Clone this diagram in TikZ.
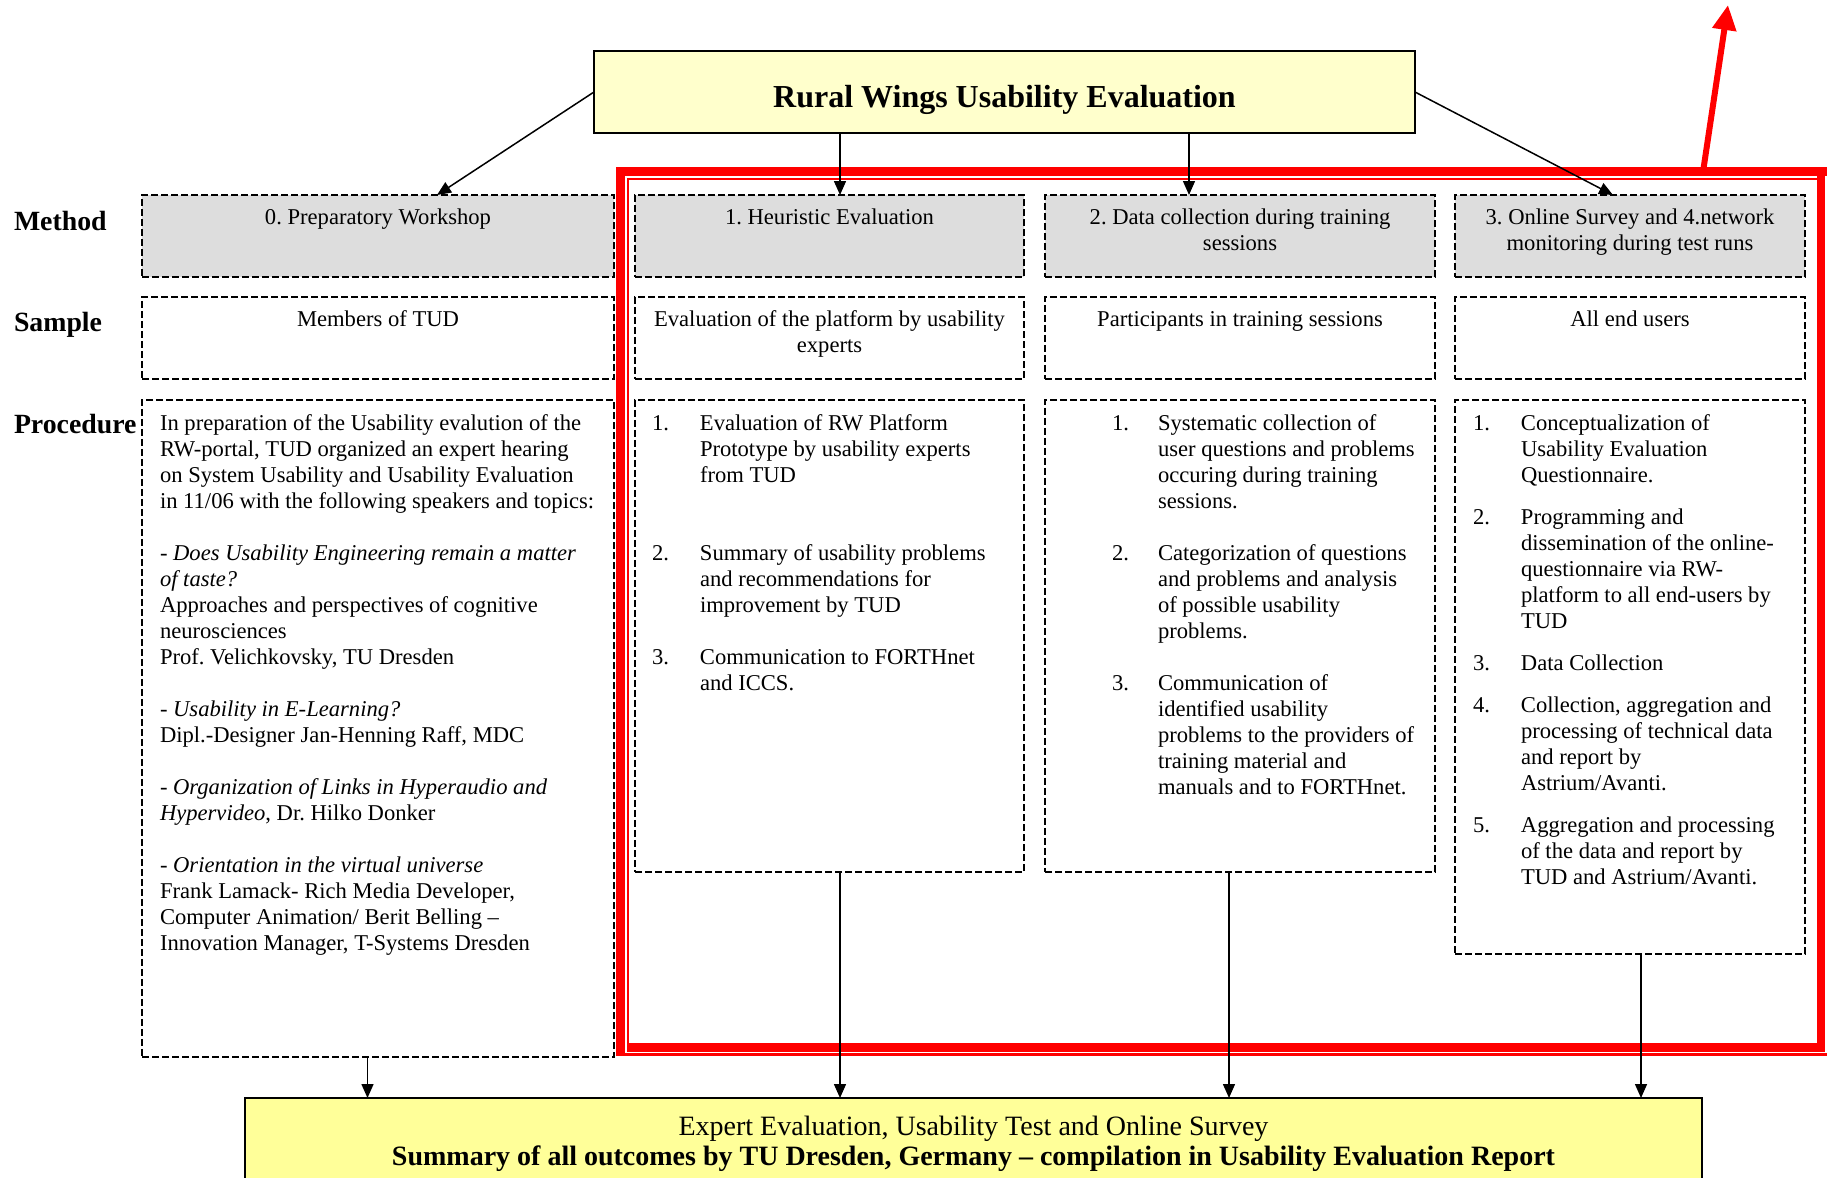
\documentclass[tikz,border=0pt]{standalone}
\usepackage{fontspec}
\setmainfont{Liberation Serif}
\usetikzlibrary{arrows.meta,calc}
\definecolor{boxgray}{HTML}{DDDDDD}
\definecolor{titley}{HTML}{FFFFCC}
\definecolor{boty}{HTML}{FFFF99}
\newcommand{\bodyf}{\fontsize{11.3}{13}\selectfont}
\newcommand{\nb}[1]{\makebox[24pt][l]{#1}}
\newcommand{\nbb}[1]{\makebox[23pt][l]{#1}}
\frenchspacing
\begin{document}
\begin{tikzpicture}[x=0.5pt,y=-0.5pt,
  place/.style n args={4}{anchor=north west, at={(#1,#2)},
     minimum width={(#3-#1)*0.5pt}, minimum height={(#4-#2)*0.5pt}},
  dbox/.style={draw=black, line width=0.85pt, dash pattern=on 3.3pt off 1.7pt, inner sep=0pt, outer sep=0pt},
  gbox/.style={dbox, fill=boxgray},
  txt/.style={inner sep=0pt, outer sep=0pt, font=\bodyf},
  lab/.style={inner sep=0pt, outer sep=0pt, anchor=base west, font=\fontsize{13.9}{16}\selectfont\bfseries},
  arr/.style={line width=0.75pt, -{Triangle[length=7pt,width=6pt]}},
  redarr/.style={draw=red, line width=3pt, -{Triangle[length=12.5pt,width=11.5pt]}}
]
\useasboundingbox (0,0) rectangle (1827,1178);
\clip (0,0) rectangle (1827,1178);

% title
\node[draw=black, line width=0.9pt, fill=titley, inner sep=0pt, outer sep=0pt, place={594}{51}{1415}{133}] (title) {};
\node[inner sep=0pt, anchor=base, font=\fontsize{16}{19}\selectfont\bfseries] (tt) at (1004.5,107) {Rural Wings Usability Evaluation};

% row labels
\node[lab] (lm) at (14,230) {Method};
\node[lab] (ls) at (14,331) {Sample};
\node[lab] (lp) at (14,433) {Procedure};

% method row
\node[gbox, place={142}{195}{614}{277}] (m0) {};
\node[gbox, place={635}{195}{1024}{277}] (m1) {};
\node[gbox, place={1045}{195}{1435}{277}] (m2) {};
\node[gbox, place={1455}{195}{1805}{277}] (m3) {};
\node[txt, anchor=base] (m0t) at (378,224) {0. Preparatory Workshop};
\node[txt, anchor=base] (m1t) at (829.5,224) {1. Heuristic Evaluation};
\node[txt, anchor=base] (m2t) at (1240,224) {\begin{tabular}[t]{@{}c@{}}2. Data collection during training\\sessions\end{tabular}};
\node[txt, anchor=base] (m3t) at (1630,224) {\begin{tabular}[t]{@{}c@{}}3. Online Survey and 4.network\\monitoring during test runs\end{tabular}};

% sample row
\node[dbox, place={142}{297}{614}{379}] (s0) {};
\node[dbox, place={635}{297}{1024}{379}] (s1) {};
\node[dbox, place={1045}{297}{1435}{379}] (s2) {};
\node[dbox, place={1455}{297}{1805}{379}] (s3) {};
\node[txt, anchor=base] (s0t) at (378,326) {Members of TUD};
\node[txt, anchor=base] (s1t) at (829.5,326) {\begin{tabular}[t]{@{}c@{}}Evaluation of the platform by usability\\experts\end{tabular}};
\node[txt, anchor=base] (s2t) at (1240,326) {Participants in training sessions};
\node[txt, anchor=base] (s3t) at (1630,326) {All end users};

% procedure row
\node[dbox, place={142}{400}{614}{1057}] (p0) {};
\node[dbox, place={635}{400}{1024}{872}] (p1) {};
\node[dbox, place={1045}{400}{1435}{872}] (p2) {};
\node[dbox, place={1455}{400}{1805}{954}] (p3) {};

\node[txt, anchor=base west] (p0t) at (160,430) {\begin{tabular}[t]{@{}l@{}}
In preparation of the Usability evalution of the\\
RW-portal, TUD organized an expert hearing\\
on System Usability and Usability Evaluation\\
in 11/06 with the following speakers and topics:\\
\\
\textit{- Does Usability Engineering remain a matter}\\
\textit{of taste?}\\
Approaches and perspectives of cognitive\\
neurosciences\\
Prof. Velichkovsky, TU Dresden\\
\\
\textit{- Usability in E-Learning?}\\
Dipl.-Designer Jan-Henning Raff, MDC\\
\\
\textit{- Organization of Links in Hyperaudio and}\\
\textit{Hypervideo}, Dr. Hilko Donker\\
\\
\textit{- Orientation in the virtual universe}\\
Frank Lamack- Rich Media Developer,\\
Computer Animation/ Berit Belling –\\
Innovation Manager, T-Systems Dresden
\end{tabular}};

\node[txt, anchor=base west] (p1t) at (652,430) {\begin{tabular}[t]{@{}l@{}}
\nb{1.}Evaluation of RW Platform\\
\nb{}Prototype by usability experts\\
\nb{}from TUD\\
\\
\\
\nb{2.}Summary of usability problems\\
\nb{}and recommendations for\\
\nb{}improvement by TUD\\
\\
\nb{3.}Communication to FORTHnet\\
\nb{}and ICCS.
\end{tabular}};

\node[txt, anchor=base west] (p2t) at (1112,430) {\begin{tabular}[t]{@{}l@{}}
\nbb{1.}Systematic collection of\\
\nbb{}user questions and problems\\
\nbb{}occuring during training\\
\nbb{}sessions.\\
\\
\nbb{2.}Categorization of questions\\
\nbb{}and problems and analysis\\
\nbb{}of possible usability\\
\nbb{}problems.\\
\\
\nbb{3.}Communication of\\
\nbb{}identified usability\\
\nbb{}problems to the providers of\\
\nbb{}training material and\\
\nbb{}manuals and to FORTHnet.
\end{tabular}};

\node[txt, anchor=base west] (p3t) at (1473,430) {\begin{tabular}[t]{@{}l@{}}
\nb{1.}Conceptualization of\\
\nb{}Usability Evaluation\\
\nb{}Questionnaire.\\[8pt]
\nb{2.}Programming and\\
\nb{}dissemination of the online-\\
\nb{}questionnaire via RW-\\
\nb{}platform to all end-users by\\
\nb{}TUD\\[8pt]
\nb{3.}Data Collection\\[8pt]
\nb{4.}Collection, aggregation and\\
\nb{}processing of technical data\\
\nb{}and report by\\
\nb{}Astrium/Avanti.\\[8pt]
\nb{5.}Aggregation and processing\\
\nb{}of the data and report by\\
\nb{}TUD and Astrium/Avanti.
\end{tabular}};

% bottom box
\node[draw=black, line width=1pt, fill=boty, inner sep=0pt, outer sep=0pt, place={245}{1098}{1702}{1210}] (bot) {};
\node[inner sep=0pt, anchor=base, font=\fontsize{14}{15}\selectfont] (bt) at (973.5,1135) {\begin{tabular}[t]{@{}c@{}}Expert Evaluation, Usability Test and Online Survey\\
\textbf{Summary of all outcomes by TU Dresden, Germany – compilation in Usability Evaluation Report}\end{tabular}};

% red frame
\fill[red] (616,167) rectangle (625,1056);
\fill[red] (616,167) rectangle (1830,176);
\fill[red] (627,178) rectangle (629,1043);
\fill[red] (627,178) rectangle (1817,180);
\fill[red] (1817,176) rectangle (1825,1052);
\fill[red] (627,1043) rectangle (1825,1052);
\fill[red] (616,1053) rectangle (1830,1056);

% red arrow
\coordinate (rs) at (1703,172);
\coordinate (rt) at (1728,5);
\draw[redarr] (rs) -- (rt);

% arrows from title
\draw[arr] (title.west) -- ([xshift=29.5pt]m0.north);
\draw[arr] ([xshift=5.25pt]m1.north |- title.south) -- ([xshift=5.25pt]m1.north);
\draw[arr] ([xshift=-25.5pt]m2.north |- title.south) -- ([xshift=-25.5pt]m2.north);
\draw[arr] (title.east) -- ([xshift=-8.5pt]m3.north);

% arrows to bottom box
\draw[arr] ([xshift=-5.25pt]p0.south) -- ([xshift=-5.25pt]p0.south |- bot.north);
\draw[arr] ([xshift=5.25pt]p1.south) -- ([xshift=5.25pt]p1.south |- bot.north);
\draw[arr] ([xshift=-5.5pt]p2.south) -- ([xshift=-5.5pt]p2.south |- bot.north);
\draw[arr] ([xshift=5.5pt]p3.south) -- ([xshift=5.5pt]p3.south |- bot.north);
\end{tikzpicture}
\end{document}
